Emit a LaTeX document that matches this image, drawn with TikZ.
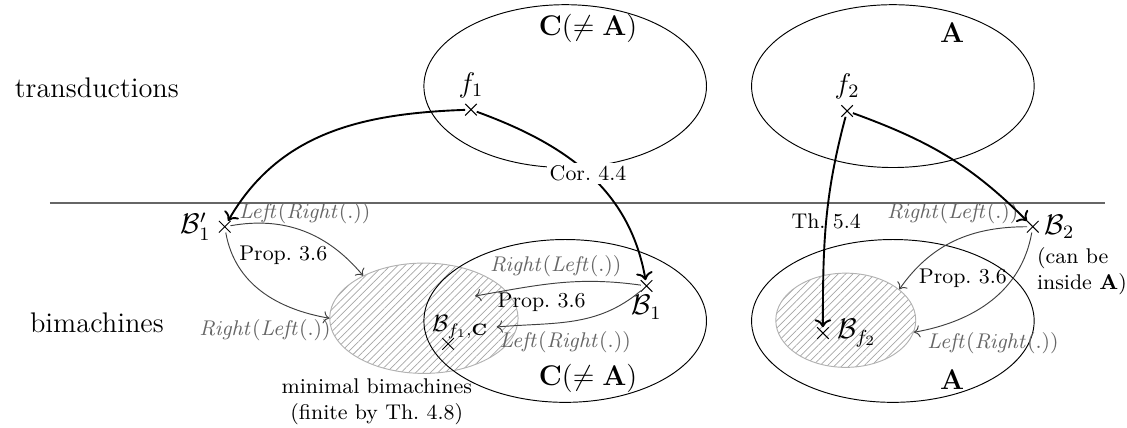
\documentclass[tikz,border=0pt]{standalone}
\usetikzlibrary{shapes.geometric, shapes.misc, arrows.meta, positioning, patterns.meta}

\begin{document}
\begin{tikzpicture}[
    set/.style={ellipse, draw, minimum width=4.2cm, minimum height=2.42cm, inner sep=0pt},
    mini/.style={ellipse, draw=black!30, inner sep=0pt,
                 pattern={Lines[angle=45, distance=2.2pt, line width=0.3pt]}, pattern color=black!35},
    pt/.style={cross out, draw, inner sep=0pt, minimum size=4.5pt},
    thm/.style={font=\small},
    op/.style={font=\small, text=black!60},
    arr/.style={->, thick},
    arrg/.style={->, black!75},
]
    \useasboundingbox (0,0) rectangle (16.75,6.36);

    % levels
    \node[font=\large] (trans) at (1.44,5.05) {transductions};
    \node[font=\large] (bim)   at (1.44,1.56) {bimachines};
    \draw[black!60, line width=0.6pt] (0.74,3.34) -- (16.42,3.34);

    % transductions
    \node[set] (topC) at (8.40,5.08) {};
    \node[set] (topA) at (13.27,5.08) {};
    \node[font=\large] (topClab) at (8.74,5.94) {$\mathbf{C}(\neq\mathbf{A})$};
    \node[font=\large] (topAlab) at (14.15,5.88) {$\mathbf{A}$};
    \node[pt] (f1) at (7.00,4.73) {};
    \node[pt] (f2) at (12.59,4.71) {};
    \node[font=\large, above=-1pt of f1] (f1lab) {$f_1$};
    \node[font=\large, above=-1pt of f2] (f2lab) {$f_2$};

    % bimachines
    \node[mini, minimum width=2.8cm, minimum height=1.64cm] (minL) at (6.30,1.63) {};
    \node[mini, minimum width=2.08cm, minimum height=1.40cm] (minR) at (12.57,1.60) {};
    \node[set] (botC) at (8.40,1.59) {};
    \node[set] (botA) at (13.27,1.59) {};
    \node[font=\large] (botClab) at (8.74,0.74) {$\mathbf{C}(\neq\mathbf{A})$};
    \node[font=\large] (botAlab) at (14.15,0.71) {$\mathbf{A}$};
    \node[thm, align=center] (minLlab) at (5.60,0.39) {minimal bimachines\\(finite by Th.~4.8)};

    \node[pt] (b1p) at (3.34,2.99) {};
    \node[font=\large, left=0pt of b1p] (b1plab) {$\mathcal{B}'_1$};
    \node[pt] (b1) at (9.61,2.11) {};
    \node[font=\large, below=-2pt of b1] (b1lab) {$\mathcal{B}_1$};
    \node[pt] (bf1c) at (6.66,1.25) {};
    \node (bf1) at (6.84,1.50) {$\mathcal{B}_{f_1,\mathbf{C}}$};
    \node[pt] (b2) at (15.35,2.99) {};
    \node[font=\large, right=-1pt of b2] (b2lab) {$\mathcal{B}_2$};
    \node[thm, align=left, anchor=north west] (canbe) at (15.29,2.80) {(can be\\inside $\mathbf{A}$)};
    \node[pt] (bf2) at (12.23,1.41) {};
    \node[font=\large, right=0pt of bf2] (bf2lab) {$\mathcal{B}_{f_2}$};
    \coordinate (t1) at (7.06,1.96);

    % operations
    \node[op]  (lr1) at (4.53,3.19) {$\mathit{Left}(\mathit{Right}(.))$};
    \node[thm] (p1)  at (4.21,2.57) {Prop.~3.6};
    \node[op]  (rl1) at (3.94,1.46) {$\mathit{Right}(\mathit{Left}(.))$};
    \node[op]  (rl2) at (8.26,2.41) {$\mathit{Right}(\mathit{Left}(.))$};
    \node[thm] (p2)  at (8.05,1.87) {Prop.~3.6};
    \node[op]  (lr2) at (8.40,1.28) {$\mathit{Left}(\mathit{Right}(.))$};
    \node[op]  (rl3) at (14.16,3.19) {$\mathit{Right}(\mathit{Left}(.))$};
    \node[thm] (p3)  at (14.31,2.23) {Prop.~3.6};
    \node[op]  (lr3) at (14.76,1.26) {$\mathit{Left}(\mathit{Right}(.))$};

    \draw[arr] (f1) to[out=182, in=60] (b1p);
    \draw[arr] (f1) to[out=-20, in=100] node[thm, fill=white, inner sep=1pt] {Cor.~4.4} (b1);
    \draw[arr] (f2) to[out=-105, in=90] node[thm] {Th.~5.4} (bf2);
    \draw[arr] (f2) to[out=-20, in=135] (b2);

    \draw[arrg] (b1p) to[out=10, in=130] (minL.145);
    \draw[arrg] (b1p) to[out=-80, in=170] (minL.180);
    \draw[arrg] (b1) to[out=172, in=10] (t1);
    \draw[arrg] (b1) to[out=-140, in=5] (bf1.east);
    \draw[arrg] (b2) to[out=180, in=55] (minR.30);
    \draw[arrg] (b2) to[out=-100, in=10] (minR.-10);
\end{tikzpicture}
\end{document}
